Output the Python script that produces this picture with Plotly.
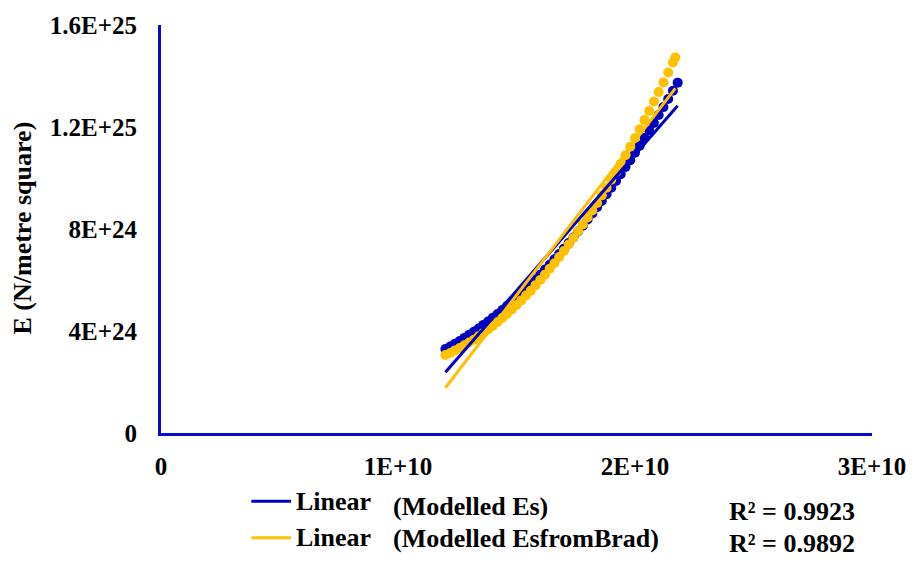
import numpy as np
import plotly.graph_objects as go

# Modelled Young's modulus data (x in units of 1E+10, y in units of 1E+24 N/m^2)
x_es = [1.20, 1.22, 1.24, 1.26, 1.28, 1.30, 1.32, 1.34, 1.36, 1.38, 1.40, 1.42,
        1.44, 1.46, 1.48, 1.50, 1.52, 1.54, 1.56, 1.58, 1.60, 1.62, 1.64, 1.66,
        1.68, 1.70, 1.72, 1.74, 1.76, 1.78, 1.80, 1.82, 1.84, 1.86, 1.88, 1.90,
        1.92, 1.94, 1.96, 1.98, 2.00, 2.02, 2.04, 2.06, 2.08, 2.10, 2.12, 2.14,
        2.16, 2.18]
y_es = [3.29, 3.39, 3.50, 3.61, 3.73, 3.85, 3.97, 4.10, 4.24, 4.37, 4.52, 4.67,
        4.82, 4.98, 5.14, 5.31, 5.48, 5.65, 5.83, 6.02, 6.21, 6.41, 6.60, 6.81,
        7.02, 7.23, 7.45, 7.67, 7.90, 8.13, 8.37, 8.61, 8.85, 9.10, 9.36, 9.62,
        9.88, 10.15, 10.43, 10.70, 10.99, 11.27, 11.57, 11.86, 12.16, 12.47, 12.78, 13.10,
        13.42, 13.74]

x_brad = [1.20, 1.22, 1.24, 1.26, 1.28, 1.30, 1.32, 1.34, 1.36, 1.38, 1.40, 1.42,
          1.44, 1.46, 1.48, 1.50, 1.52, 1.54, 1.56, 1.58, 1.60, 1.62, 1.64, 1.66,
          1.68, 1.70, 1.72, 1.74, 1.76, 1.78, 1.80, 1.82, 1.84, 1.86, 1.88, 1.90,
          1.92, 1.94, 1.96, 1.98, 2.00, 2.02, 2.04, 2.06, 2.08, 2.10, 2.12, 2.14,
          2.16, 2.17]
y_brad = [3.06, 3.14, 3.24, 3.33, 3.44, 3.55, 3.66, 3.79, 3.92, 4.06, 4.20, 4.35,
          4.51, 4.67, 4.84, 5.02, 5.20, 5.39, 5.58, 5.79, 6.00, 6.21, 6.44, 6.66,
          6.90, 7.14, 7.39, 7.65, 7.91, 8.18, 8.45, 8.73, 9.02, 9.32, 9.62, 9.93,
          10.24, 10.56, 10.89, 11.23, 11.57, 11.91, 12.27, 12.63, 13.00, 13.37, 13.75, 14.14,
          14.53, 14.73]

series_names = ["(Modelled Es)", "(Modelled EsfromBrad)"]
r2_labels = ["R\u00b2 = 0.9923", "R\u00b2 = 0.9892"]

x_ticks = [0, 1e10, 2e10, 3e10]
x_tick_text = ["0", "1E+10", "2E+10", "3E+10"]
y_ticks = [0, 4e24, 8e24, 1.2e25, 1.6e25]
y_tick_text = ["0", "4E+24", "8E+24", "1.2E+25", "1.6E+25"]

BLUE = "#0000C0"
ORANGE = "#FFC000"
AXIS_BLUE = "#0A0ACF"
FONT = "Liberation Serif"

W, H = 918, 562
L, R, T, B = 161, 41, 20, 129
PW, PH = W - L - R, H - T - B


def px(xp):
    return (xp - L) / PW


def py(yp):
    return (H - B - yp) / PH


def scaled(vals, unit):
    return [v * unit for v in vals]


xe, ye = np.array(scaled(x_es, 1e10)), np.array(scaled(y_es, 1e24))
xb, yb = np.array(scaled(x_brad, 1e10)), np.array(scaled(y_brad, 1e24))

fig = go.Figure()
fig.add_trace(go.Scatter(x=xe, y=ye, mode="markers",
                         marker=dict(color=BLUE, size=10), showlegend=False))
fig.add_trace(go.Scatter(x=xb, y=yb, mode="markers",
                         marker=dict(color=ORANGE, size=10), showlegend=False))

# least-squares linear trendlines
for xs, ys, col in [(xe, ye, BLUE), (xb, yb, ORANGE)]:
    k, c = np.polyfit(xs, ys, 1)
    xl = np.array([xs.min(), xs.max()])
    fig.add_trace(go.Scatter(x=xl, y=k * xl + c, mode="lines",
                             line=dict(color=col, width=3), showlegend=False))

tick_font = dict(family=FONT, size=25, color="black", weight="bold")
fig.update_xaxes(range=[0, 3e10], tickvals=x_ticks, ticktext=x_tick_text,
                 showgrid=False, zeroline=False, showline=True,
                 linecolor=AXIS_BLUE, linewidth=3, ticks="",
                 ticklabelstandoff=9, tickfont=tick_font)
fig.update_yaxes(range=[0, 1.6e25], tickvals=y_ticks, ticktext=y_tick_text,
                 showgrid=False, zeroline=False, showline=True,
                 linecolor=AXIS_BLUE, linewidth=3, ticks="",
                 ticklabelstandoff=16, tickfont=tick_font)

annotations = [
    dict(text="<b>E (N/metre square)</b>", x=px(22), y=py(225), textangle=-90,
         xref="paper", yref="paper", showarrow=False,
         font=dict(family=FONT, size=26, color="black"),
         xanchor="center", yanchor="middle"),
]
shapes = []
legend_rows = [(502, 507, 512, BLUE), (539, 540, 545, ORANGE)]
for (yl, ys, yr, col), name, r2 in zip(legend_rows, series_names, r2_labels):
    shapes.append(dict(type="line", xref="paper", yref="paper",
                       x0=px(252), x1=px(292), y0=py(yl), y1=py(yl),
                       line=dict(color=col, width=3)))
    annotations.append(dict(text="<b>Linear</b>", x=px(295), y=py(yl),
                            xref="paper", yref="paper", showarrow=False,
                            xanchor="left", yanchor="middle",
                            font=dict(family=FONT, size=26, color="black")))
    annotations.append(dict(text=f"<b>{name}</b>", x=px(393), y=py(ys),
                            xref="paper", yref="paper", showarrow=False,
                            xanchor="left", yanchor="middle",
                            font=dict(family=FONT, size=26, color="black")))
    annotations.append(dict(text=f"<b>{r2}</b>", x=px(796), y=py(yr),
                            xref="paper", yref="paper", showarrow=False,
                            xanchor="center", yanchor="middle",
                            font=dict(family=FONT, size=26, color="black")))

fig.update_layout(width=W, height=H, margin=dict(l=L, r=R, t=T, b=B),
                  plot_bgcolor="white", paper_bgcolor="white",
                  showlegend=False, annotations=annotations, shapes=shapes)

fig.write_html("out.html")
